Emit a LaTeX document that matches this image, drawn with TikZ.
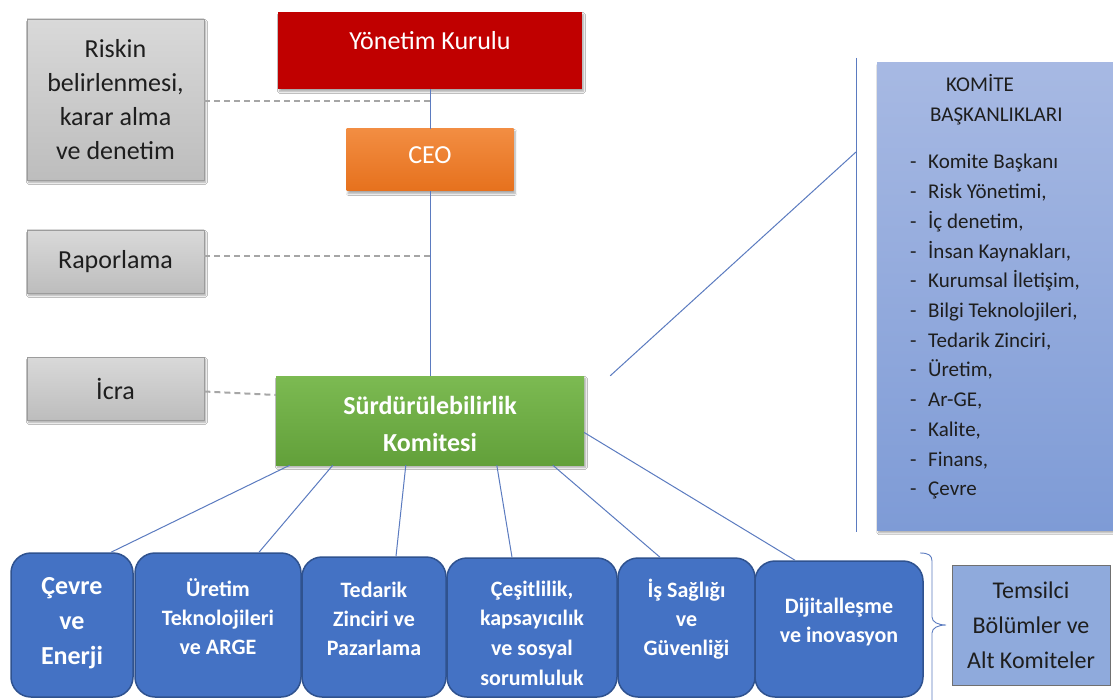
\documentclass[tikz,border=0pt]{standalone}
\usepackage{fontspec}
\setmainfont{Carlito}
\usetikzlibrary{shadows.blur}
\definecolor{redk}{HTML}{C00000}
\definecolor{orangetop}{HTML}{F28D42}
\definecolor{orangebot}{HTML}{E6711D}
\definecolor{greentop}{HTML}{7CBA52}
\definecolor{greenbot}{HTML}{62A03A}
\definecolor{graytop}{HTML}{D9D9D9}
\definecolor{graybot}{HTML}{BDBDBD}
\definecolor{graybd}{HTML}{9C9C9C}
\definecolor{txtdark}{HTML}{1E1E1E}
\definecolor{kbtop}{HTML}{A7B9E3}
\definecolor{kbbot}{HTML}{7E9BD6}
\definecolor{temfill}{HTML}{8FAADC}
\definecolor{tembd}{HTML}{707070}
\definecolor{subfill}{HTML}{4472C4}
\definecolor{subbd}{HTML}{2F528F}
\definecolor{linkblue}{HTML}{5B7BC0}
\definecolor{dashgray}{HTML}{A6A6A6}
\begin{document}
\begin{tikzpicture}[x=1pt,y=-1pt,
  conn/.style={draw=linkblue, line width=1pt},
  dashl/.style={draw=dashgray, line width=2pt, dash pattern=on 6pt off 4pt},
  shad/.style={blur shadow={shadow xshift=1.5pt, shadow yshift=-2.5pt, shadow opacity=35, shadow blur steps=6}},
  graybox/.style={shad, draw=graybd, line width=0.8pt, top color=graytop, bottom color=graybot,
    minimum width=177pt, align=center, text=txtdark, font=\fontsize{26}{34}\selectfont, inner sep=0pt},
  plainbox/.style={inner sep=0pt},
  subbox/.style={draw=subbd, line width=1.5pt, fill=subfill, rounded corners=20pt, inner sep=0pt},
  subtext/.style={text=white, align=center, font=\bfseries\fontsize{22}{29}\selectfont, inner sep=0pt},
  whitetext/.style={text=white, align=center, inner sep=0pt},
  listtext/.style={text=txtdark, inner sep=0pt, anchor=base west, font=\fontsize{21}{29.7}\selectfont},
]
\useasboundingbox[fill=white] (0,0) rectangle (1113,700);

% top chain
\node[plainbox, shad, fill=redk, minimum width=304pt, minimum height=77pt] (yk) at (430,50.5) {};
\node[whitetext, font=\fontsize{26}{30}\selectfont] (ykt) at (430,41) {Yönetim Kurulu};
\node[plainbox, shad, top color=orangetop, bottom color=orangebot, minimum width=167pt, minimum height=62pt] (ceo) at (430,160) {};
\node[whitetext, font=\fontsize{26}{30}\selectfont] (ceot) at (430,155) {CEO};
\node[plainbox, shad, top color=greentop, bottom color=greenbot, minimum width=308pt, minimum height=89pt] (sk) at (430,420.5) {};
\node[whitetext, font=\bfseries\fontsize{26}{37}\selectfont] (skt) at (430,423.5) {Sürdürülebilirlik\\Komitesi};

% gray boxes
\node[graybox, minimum height=161pt] (riskin) at (115.5,99.5) {Riskin\\belirlenmesi,\\karar alma\\ve denetim};
\node[graybox, minimum height=63pt] (rapor) at (115.5,261.5) {Raporlama};
\node[graybox, minimum height=63pt] (icra) at (115.5,388.5) {İcra};

% connectors
\coordinate (j1) at (430,101);
\coordinate (j2) at (430,256);
\draw[conn] (yk.south) -- (ceo.north);
\draw[conn] (ceo.south) -- (sk.north);
\draw[dashl] (riskin.east |- j1) -- (j1);
\draw[dashl] (rapor.east |- j2) -- (j2);
\draw[dashl] ([yshift=-3pt]icra.east) -- ([yshift=25.5pt]sk.west);

% right committee box
\node[plainbox, shad, top color=kbtop, bottom color=kbbot, minimum width=245pt, minimum height=468pt, anchor=north west] (kb) at (877,62) {};
\node[listtext] (kh1) at (946,92) {KOMİTE};
\node[listtext] (kh2) at (930,122) {BAŞKANLIKLARI};
\foreach \t [count=\i] in {{Komite Başkanı},{Risk Yönetimi,},{İç denetim,},{İnsan Kaynakları,},{Kurumsal İletişim,},{Bilgi Teknolojileri,},{Tedarik Zinciri,},{Üretim,},{Ar-GE,},{Kalite,},{Finans,},{Çevre}}
  \node[listtext] (k\i) at (910,{169+29.7*(\i-1)}) {\makebox[18pt][l]{-}\t};

\coordinate (rt) at (856,58);
\coordinate (rb) at (856,532);
\coordinate (rm) at (856,152);
\draw[conn] (rt) -- (rb);
\draw[conn] ([xshift=26pt]sk.north east) -- (rm);

% bottom boxes
\node[subbox, minimum width=122pt, minimum height=144pt] (b1) at (72,625) {};
\node[subbox, minimum width=166pt, minimum height=144pt] (b2) at (218,625) {};
\node[subbox, minimum width=144pt, minimum height=140pt] (b3) at (374,627) {};
\node[subbox, minimum width=170pt, minimum height=139pt] (b4) at (532,627.5) {};
\node[subbox, minimum width=137pt, minimum height=139pt] (b5) at (686.5,627.5) {};
\node[subbox, minimum width=168pt, minimum height=136pt] (b6) at (839,629) {};
\node[subtext, font=\bfseries\fontsize{26}{35}\selectfont] (b1t) at (72,623) {Çevre\\ve\\Enerji};
\node[subtext] (b2t) at (218,617) {Üretim\\Teknolojileri\\ve ARGE};
\node[subtext] (b3t) at (374,619) {Tedarik\\Zinciri ve\\Pazarlama};
\node[subtext, font=\bfseries\fontsize{22}{29.7}\selectfont] (b4t) at (532,633) {Çeşitlilik,\\kapsayıcılık\\ve sosyal\\sorumluluk};
\node[subtext] (b5t) at (686.5,619.5) {İş Sağlığı\\ve\\Güvenliği};
\node[subtext] (b6t) at (839,622) {Dijitalleşme\\ve inovasyon};

\draw[conn] ([xshift=14pt]sk.south west) -- ([xshift=39pt]b1.north);
\draw[conn] ([xshift=57pt]sk.south west) -- ([xshift=41pt]b2.north);
\draw[conn] ([xshift=130pt]sk.south west) -- ([xshift=22pt]b3.north);
\draw[conn] ([xshift=221pt]sk.south west) -- ([xshift=-20pt]b4.north);
\draw[conn] ([xshift=277pt]sk.south west) -- ([xshift=-26.5pt]b5.north);
\draw[conn] ([yshift=-12pt]sk.east) -- ([xshift=-44pt]b6.north);

% brace and representative box
\node[draw=tembd, fill=temfill, line width=0.8pt, minimum width=158pt, minimum height=120pt, align=center,
  text=txtdark, inner sep=0pt, font=\fontsize{24}{35}\selectfont] (tb) at (1031,625) {Temsilci\\Bölümler ve\\Alt Komiteler};
\coordinate (bt) at (920,553);
\coordinate (btip) at (946,625);
\coordinate (bbot) at (932,700);
\draw[conn, line width=0.9pt] (bt) .. controls (928,553) and (932,555) .. (932,561) -- (932,617)
  .. controls (932,622) and (938,625) .. (btip) .. controls (938,625) and (932,628) .. (932,633) -- (bbot);
\end{tikzpicture}
\end{document}
